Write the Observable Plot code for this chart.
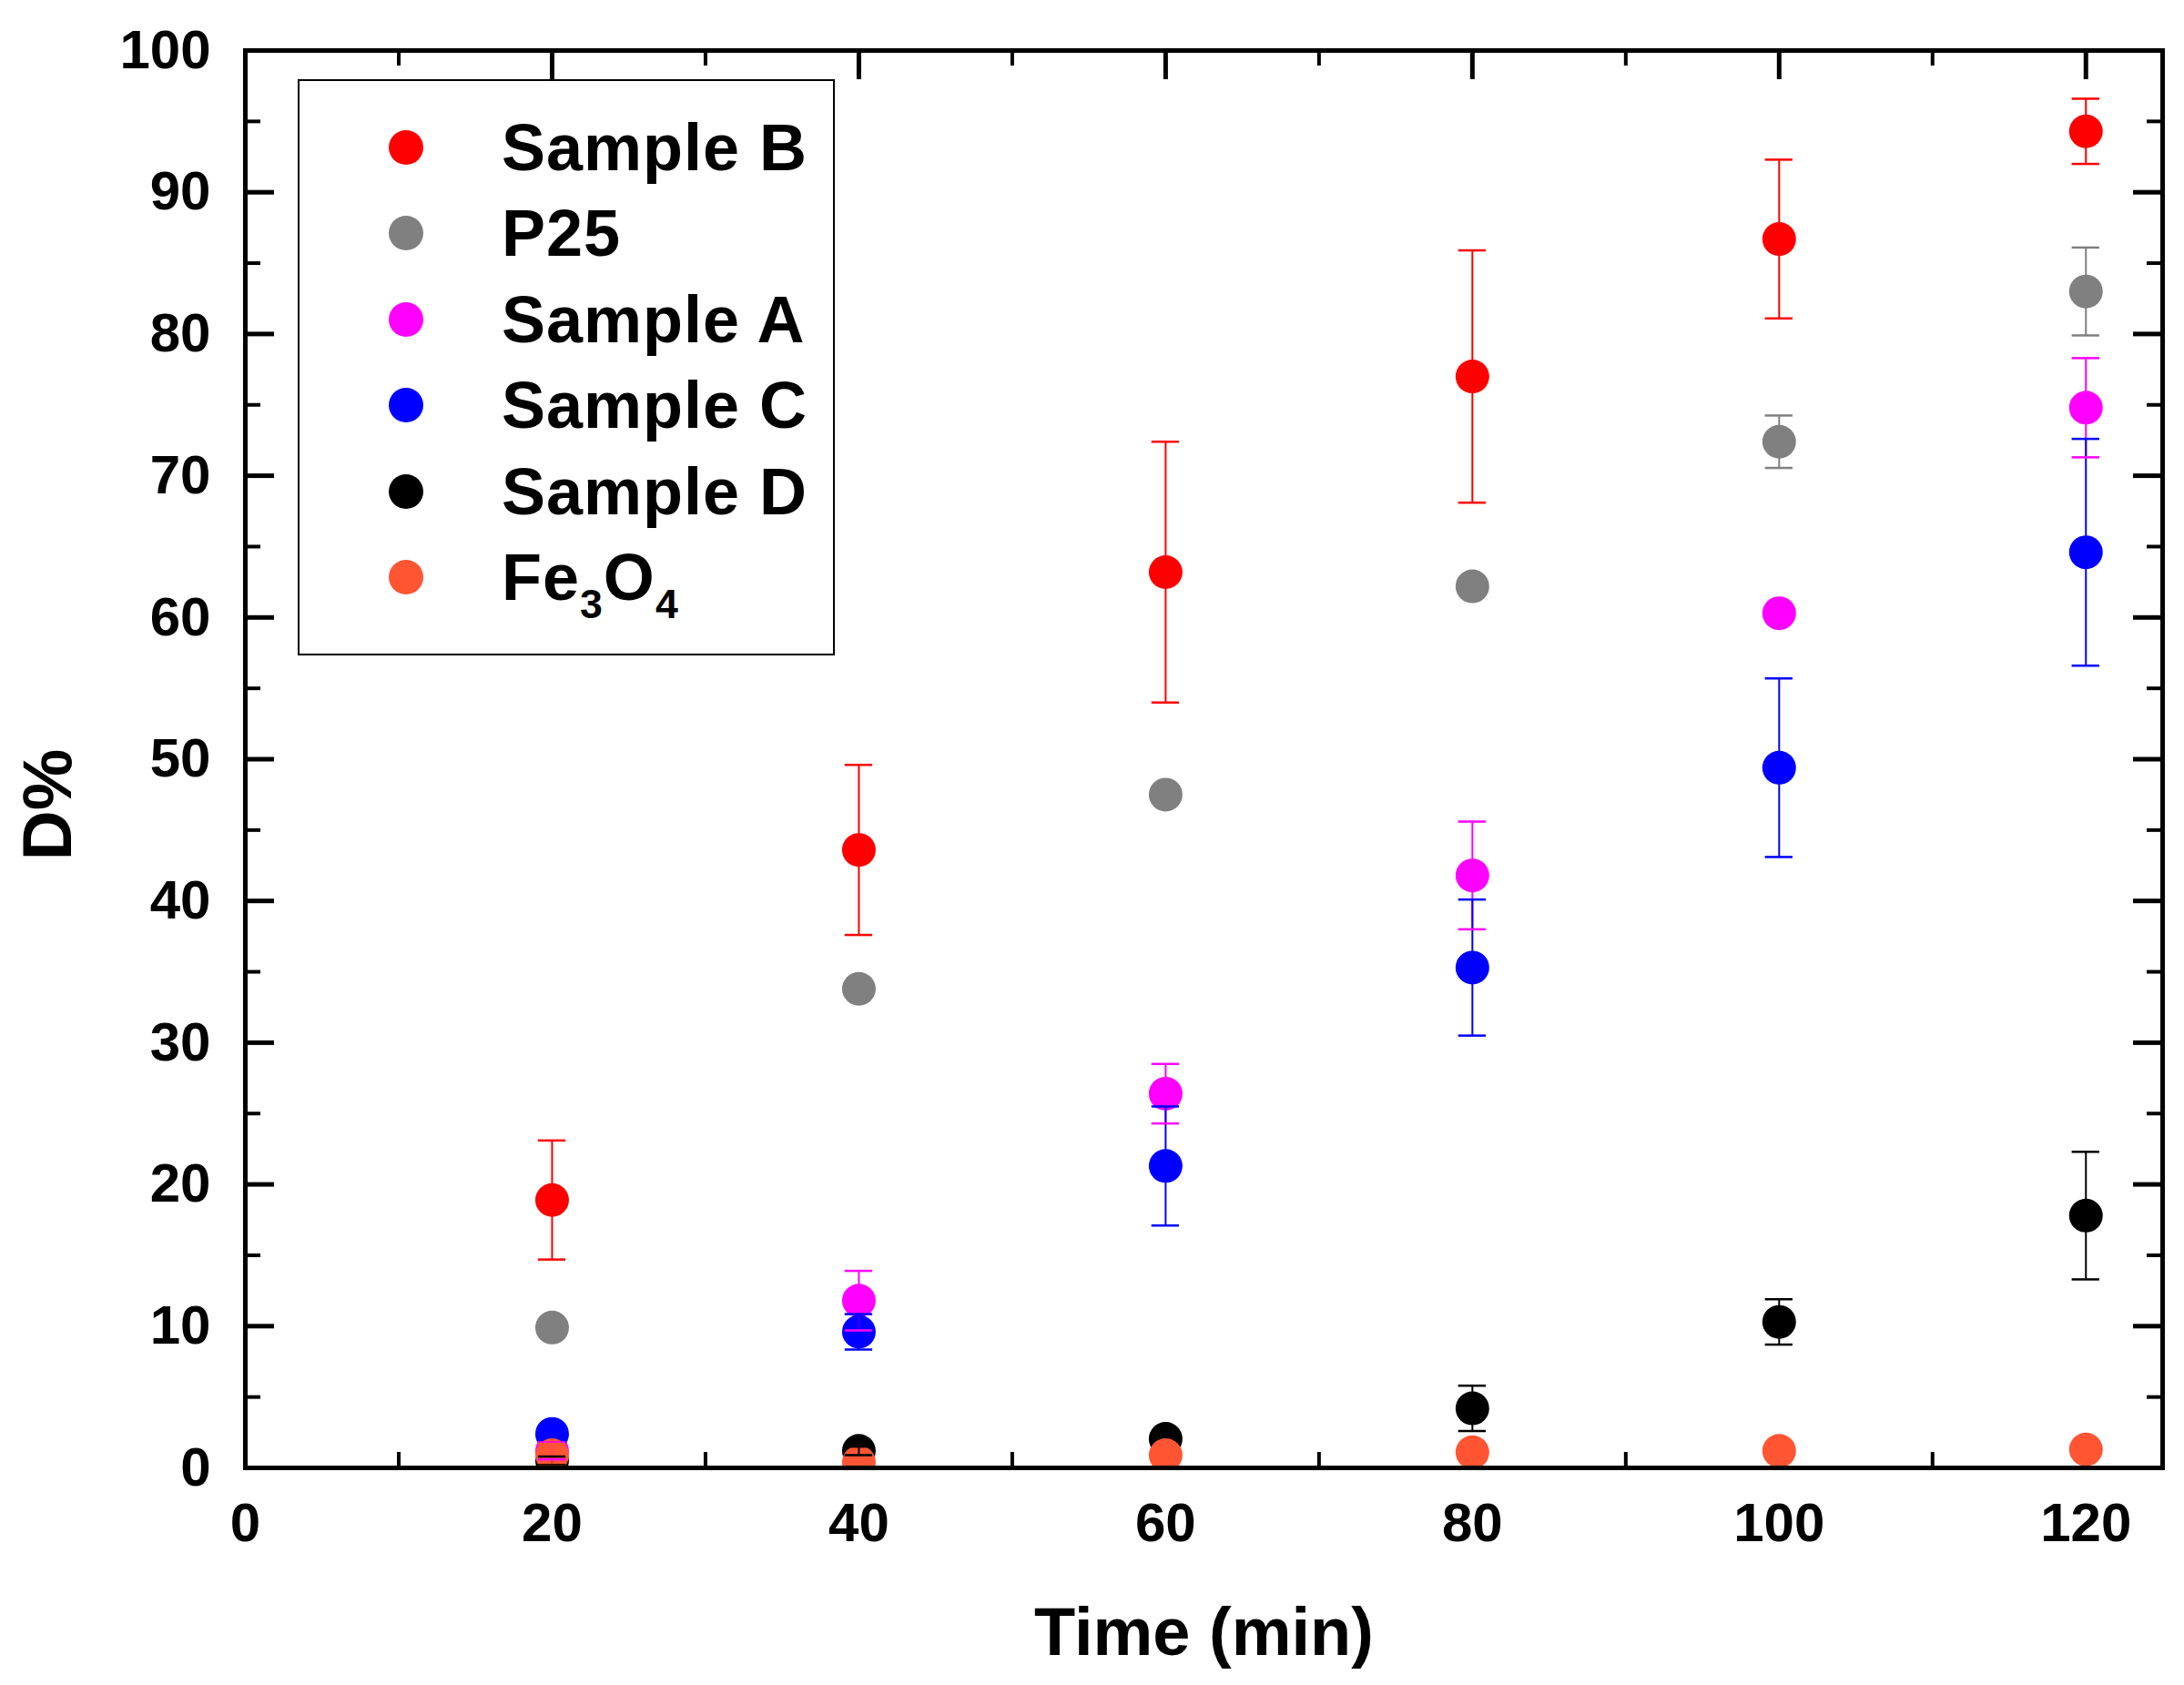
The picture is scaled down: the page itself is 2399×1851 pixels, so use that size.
<!DOCTYPE html>
<html>
<head>
<meta charset="utf-8">
<script src="https://cdn.jsdelivr.net/npm/d3@7"></script>
<script src="https://cdn.jsdelivr.net/npm/@observablehq/plot@0.6"></script>
<style>
  body { margin: 0; overflow: hidden; background: #fff; }
  #wrap { position: relative; width: 2399px; height: 1851px; }
  #legend {
    position: absolute; left: 327px; top: 87px; width: 590px; height: 633px;
    box-sizing: border-box; border: 2px solid #000; background: #fff;
    font-family: "Liberation Sans", Arial, sans-serif; font-weight: bold; font-size: 72px;
  }
  .row { position: absolute; left: 0; width: 100%; height: 94px; }
  .mk { position: absolute; left: 98px; top: 28px; width: 38px; height: 38px; border-radius: 50%; }
  .lb { position: absolute; left: 222px; top: 0; line-height: 94px; white-space: nowrap; letter-spacing: 1px; }
  .lb sub { font-size: 0.62em; vertical-align: -0.45em; }
</style>
</head>
<body>
<div id="wrap">
  <div id="chart"></div>
  <div id="legend"></div>
</div>
<script>
// tiempos y series
const times = [20, 40, 60, 80, 100, 120]
const seriesNames = ["Sample B", "P25", "Sample A", "Sample C", "Sample D", "Fe3O4"]
const legendLabels = ["Sample B", "P25", "Sample A", "Sample C", "Sample D", "Fe<sub>3</sub>O<sub>4</sub>"]
const seriesColors = ["#ff0000", "#808080", "#ff00ff", "#0000ff", "#000000", "#ff5533"]

const sampleB = [18.9, 43.6, 63.2, 77.0, 86.7, 94.3]
const sampleBErr = [4.2, 6.0, 9.2, 8.9, 5.6, 2.3]
const p25 = [9.9, 33.8, 47.5, 62.2, 72.4, 83.0]
const p25Err = [0, 0, 0, 0, 1.85, 3.1]
const sampleA = [1.2, 11.8, 26.4, 41.8, 60.3, 74.8]
const sampleAErr = [0.6, 2.1, 2.1, 3.8, 0, 3.5]
const sampleC = [2.4, 9.6, 21.3, 35.3, 49.4, 64.6]
const sampleCErr = [0, 1.25, 4.2, 4.8, 6.3, 8.0]
const sampleD = [0.5, 1.2, 2.05, 4.2, 10.3, 17.8]
const sampleDErr = [0.3, 0.3, 0, 1.6, 1.6, 4.5]
const fe3o4 = [0.9, 0.4, 0.9, 1.1, 1.2, 1.3]
const fe3o4Err = [0.8, 0.3, 0, 0, 0, 0]

const xTicks = [0, 20, 40, 60, 80, 100, 120]
const xMinor = [10, 30, 50, 70, 90, 110]
const yTicks = [0, 10, 20, 30, 40, 50, 60, 70, 80, 90, 100]
const yMinor = [5, 15, 25, 35, 45, 55, 65, 75, 85, 95]

const values = [sampleB, p25, sampleA, sampleC, sampleD, fe3o4]
const errors = [sampleBErr, p25Err, sampleAErr, sampleCErr, sampleDErr, fe3o4Err]

let rows = []
seriesNames.forEach((s, i) => {
  times.forEach((t, j) => rows.push({series: s, t: t, v: values[i][j], e: errors[i][j]}))
})
let errRows = rows.filter(d => d.e > 0)

const W = 2399, H = 1851
const mL = 269, mR = 24, mT = 55, mB = 239
const frameW = W - mL - mR, frameH = H - mT - mB
const capHalf = 0.9

let chart = Plot.plot({
  width: W,
  height: H,
  marginLeft: mL,
  marginRight: mR,
  marginTop: mT,
  marginBottom: mB,
  x: {domain: [0, 125]},
  y: {domain: [0, 100]},
  color: {domain: seriesNames, range: seriesColors},
  style: {
    fontFamily: "'Liberation Sans', Arial, sans-serif",
    fontWeight: "bold",
    background: "#fff",
    color: "#000"
  },
  marks: [
    // ticks hacia adentro en los 4 lados (debajo de los puntos)
    Plot.tickX(xTicks, {x: d => d, insetTop: frameH - 32, strokeWidth: 5}),
    Plot.tickX(xMinor, {x: d => d, insetTop: frameH - 17, strokeWidth: 4}),
    Plot.tickX(xTicks, {x: d => d, insetBottom: frameH - 32, strokeWidth: 5}),
    Plot.tickX(xMinor, {x: d => d, insetBottom: frameH - 17, strokeWidth: 4}),
    Plot.tickY(yTicks, {y: d => d, insetRight: frameW - 32, strokeWidth: 5}),
    Plot.tickY(yMinor, {y: d => d, insetRight: frameW - 17, strokeWidth: 4}),
    Plot.tickY(yTicks, {y: d => d, insetLeft: frameW - 32, strokeWidth: 5}),
    Plot.tickY(yMinor, {y: d => d, insetLeft: frameW - 17, strokeWidth: 4}),
    Plot.dot(rows, {x: "t", y: "v", fill: "series", r: 18.5, clip: true}),
    // barras de error
    Plot.ruleX(errRows, {x: "t", y1: d => d.v - d.e, y2: d => d.v + d.e, stroke: "series", strokeWidth: 2}),
    Plot.ruleY(errRows, {y: d => d.v + d.e, x1: d => d.t - capHalf, x2: d => d.t + capHalf, stroke: "series", strokeWidth: 2.5}),
    Plot.ruleY(errRows, {y: d => d.v - d.e, x1: d => d.t - capHalf, x2: d => d.t + capHalf, stroke: "series", strokeWidth: 2.5}),
    Plot.axisX(xTicks, {tickSize: 0, tickPadding: 38, fontSize: 60, label: null}),
    Plot.axisY(yTicks, {tickSize: 0, tickPadding: 38, fontSize: 60, label: null}),
    Plot.frame({strokeWidth: 5}),
    Plot.text(["Time (min)"], {frameAnchor: "bottom", lineAnchor: "middle", dy: 182, fontSize: 74}),
    Plot.text(["D%"], {frameAnchor: "left", textAnchor: "middle", lineAnchor: "middle", dx: -216, dy: 50, rotate: -90, fontSize: 76})
  ]
})

d3.select('#chart').append(() => chart)

// leyenda
let legend = d3.select('#legend')
seriesNames.forEach((s, i) => {
  let row = legend.append('div').attr('class', 'row').style('top', (26 + i * 94.4) + 'px')
  row.append('div').attr('class', 'mk').style('background', seriesColors[i])
  row.append('div').attr('class', 'lb').html(legendLabels[i])
})
</script>
</body>
</html>
